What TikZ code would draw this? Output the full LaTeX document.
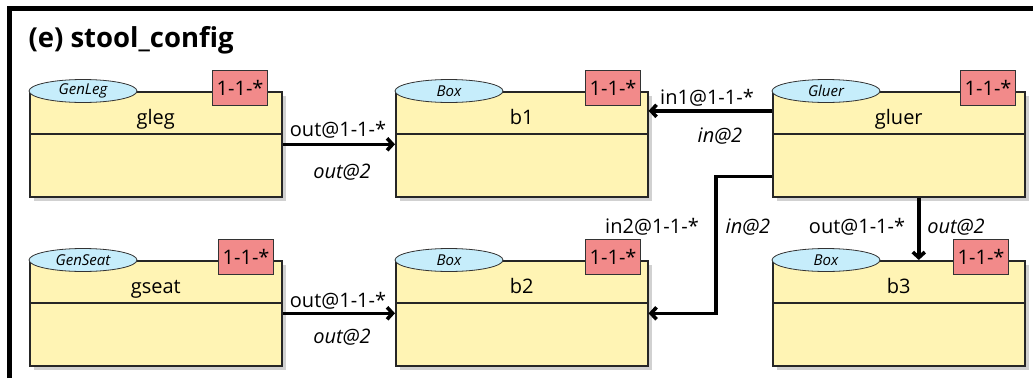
\documentclass[tikz,border=0pt]{standalone}
\usepackage{fontspec}
\setmainfont{Open Sans}
\usepackage{tikz}
\usetikzlibrary{positioning, arrows.meta, shapes.geometric, shadows, calc}
\definecolor{partfill}{HTML}{FFF4B4}
\definecolor{typefill}{HTML}{C6EDFB}
\definecolor{multfill}{HTML}{F28A8A}

\begin{document}
\begin{tikzpicture}[x=1pt, y=-1pt,
    partbox/.style={draw=black!85, line width=1.6pt, fill=partfill, minimum width=252pt, minimum height=105pt, inner sep=0pt, anchor=north west, drop shadow={fill=black!18, opacity=1, shadow xshift=4pt, shadow yshift=-4pt}},
    typeell/.style={ellipse, draw=black!80, line width=0.8pt, fill=typefill, minimum width=108pt, minimum height=23pt, inner sep=0pt, font=\fontsize{15}{18}\selectfont\itshape},
    multbox/.style={draw=black!80, line width=0.8pt, fill=multfill, minimum width=55pt, minimum height=35pt, inner sep=0pt, anchor=north east, font=\fontsize{20}{24}\selectfont},
    conn/.style={line width=3.6pt, -{Straight Barb[length=5.5pt,width=12pt]}},
    lbl/.style={anchor=base, font=\fontsize{20}{24}\selectfont},
    role/.style={lbl, font=\fontsize{20}{24}\selectfont\itshape}]
    \useasboundingbox (0,0) rectangle (1033,378);

    % Frame and title
    \draw[line width=5pt] (9.5,378) -- (9.5,8.5) -- (1033,8.5);
    \node[anchor=base west, font=\fontsize{27.5}{32}\selectfont\bfseries] (title) at (25,47) {(e) stool\_config};

    % Parts
    \foreach \n/\x/\y/\t/\m in {gleg/29/91/GenLeg/268, b1/395/91/Box/641, gluer/772/91/Gluer/1016,
                                gseat/29/260/GenSeat/274, b2/395/260/Box/641, b3/772/260/Box/1009} {
        \node[partbox] (\n) at (\x,\y) {};
        \draw[line width=1.6pt, draw=black!85] ($(\n.north west)+(0,43)$) -- ($(\n.north east)+(0,43)$);
        \node[typeell] (\n-type) at ($(\n.north west)+(54,0)$) {\t};
        \node[multbox] (\n-mult) at (\m,\y-21) {1-1-*};
        \node[lbl] (\n-name) at ($(\n.north)+(0,33)$) {\n};
    }

    % Connectors
    \draw[conn] (gleg.east) -- (b1.west);
    \draw[conn] (gseat.east) -- (b2.west);
    \draw[conn] ([yshift=33.5pt]gluer.west) -- ([yshift=33.5pt]b1.east);
    \draw[conn] ([yshift=-32pt]gluer.west) -- ++(-56,0) |- (b2.east);
    \coordinate (g3) at ([xshift=20pt]gluer.south);
    \draw[conn] (g3) -- (g3 |- b3.north);

    % Labels
    \node[lbl] (l1) at (338,136) {out@1-1-*};
    \node[role] (r1) at (342,178) {out@2};
    \node[lbl] (l2) at (707,104) {in1@1-1-*};
    \node[role] (r2) at (720,142) {in@2};
    \node[lbl] (l3) at (652,233) {in2@1-1-*};
    \node[role] (r3) at (748,233) {in@2};
    \node[lbl] (l4) at (857,233) {out@1-1-*};
    \node[role] (r4) at (956,233) {out@2};
    \node[lbl] (l5) at (338,307) {out@1-1-*};
    \node[role] (r5) at (342,343) {out@2};
\end{tikzpicture}
\end{document}
